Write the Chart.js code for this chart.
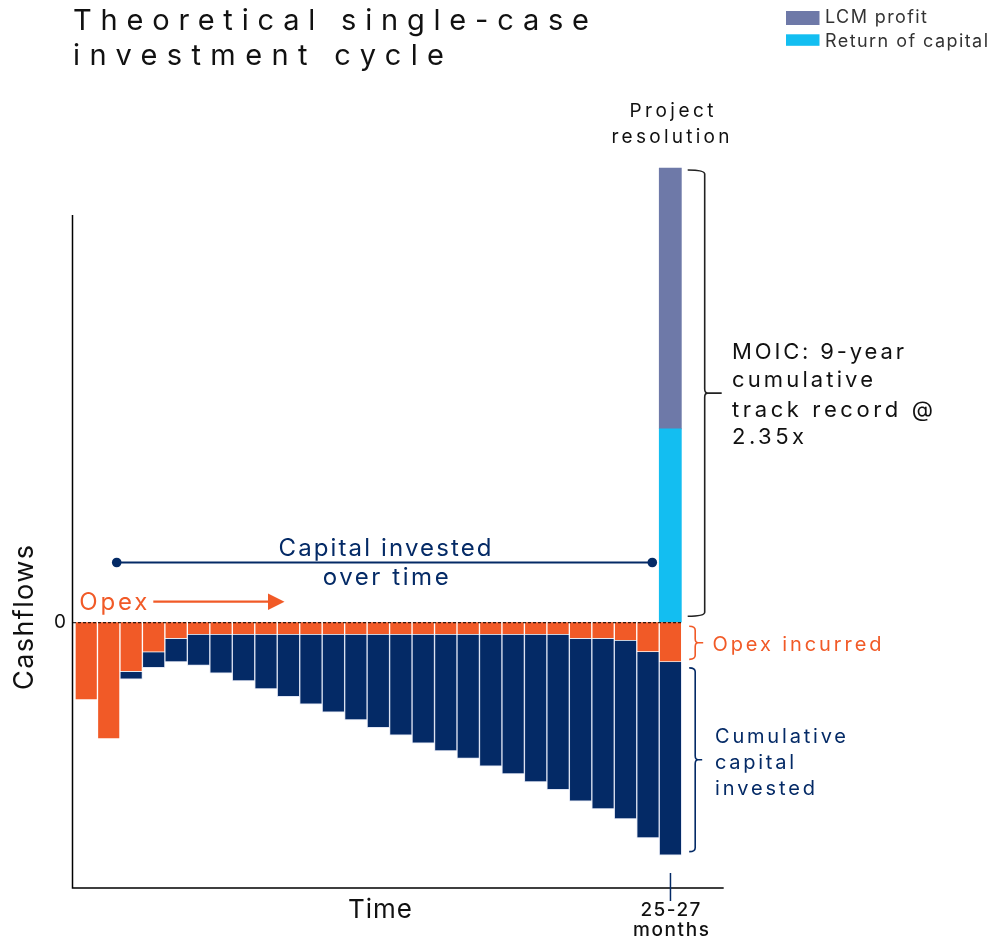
<!DOCTYPE html>
<html>
<head>
<meta charset="utf-8">
<script src="https://cdn.jsdelivr.net/npm/chart.js@4"></script>
<style>
  html, body { margin: 0; padding: 0; background: #fff; }
  #wrap { width: 994px; height: 942px; position: relative; }
</style>
</head>
<body>
<div id="wrap"><canvas id="c" width="994" height="942"></canvas></div>
<script>
// ---- Data (units: cumulative capital invested at resolution = 100) ----
const categories = ['1','2','3','4','5','6','7','8','9','10','11','12','13','14','15','16','17','18','19','20','21','22','23','24','25','26','27'];
const opexIncurred = [-40.2, -60.4, -25.6, -15.5, -8.5, -6.4, -6.4, -6.4, -6.4, -6.4, -6.4, -6.4, -6.4, -6.4, -6.4, -6.4, -6.4, -6.4, -6.4, -6.4, -6.4, -6.4, -8.5, -8.5, -9.5, -15.4, -20.5];
const capitalInvested = [0, 0, -3.9, -8.0, -12.1, -16.0, -20.0, -24.0, -28.1, -32.1, -36.0, -40.1, -44.1, -48.1, -52.0, -56.2, -60.2, -64.1, -68.1, -72.1, -76.2, -80.2, -84.1, -88.1, -92.2, -96.2, -100];
const returnOfCapital = [null, null, null, null, null, null, null, null, null, null, null, null, null, null, null, null, null, null, null, null, null, null, null, null, null, null, 100];
const lcmProfit = [null, null, null, null, null, null, null, null, null, null, null, null, null, null, null, null, null, null, null, null, null, null, null, null, null, null, 135];
const yTickLabels = ['0'];

const C_OPEX = '#F15A27';
const C_CAP = '#042A66';
const C_RET = '#13BEF1';
const C_PROF = '#6E79A8';
const FONT = 'Inter, "Noto Sans", sans-serif';

function brace(ctx, x, yTop, yBot, hook, tip, color, lw) {
  const yMid = (yTop + yBot) / 2;
  const r = 4;
  ctx.save();
  ctx.strokeStyle = color;
  ctx.lineWidth = lw;
  ctx.beginPath();
  ctx.moveTo(x - hook, yTop);
  ctx.quadraticCurveTo(x, yTop, x, yTop + r);
  ctx.lineTo(x, yMid - r);
  ctx.quadraticCurveTo(x, yMid, x + 3, yMid);
  ctx.lineTo(x + tip, yMid);
  ctx.moveTo(x + 3, yMid);
  ctx.quadraticCurveTo(x, yMid, x, yMid + r);
  ctx.lineTo(x, yBot - r);
  ctx.quadraticCurveTo(x, yBot, x - hook, yBot);
  ctx.stroke();
  ctx.restore();
}

// draw text so that it spans targetWidth, starting at x (left edge)
function fit(ctx, text, x, y, targetWidth) {
  ctx.save();
  ctx.textAlign = 'left';
  ctx.letterSpacing = '0px';
  const w = ctx.measureText(text).width;
  const sp = (targetWidth - w) / Math.max(1, text.length - 1);
  ctx.letterSpacing = sp + 'px';
  ctx.fillText(text, x, y);
  ctx.restore();
}

const annotations = {
  id: 'annotations',
  afterDatasetsDraw(chart) {
    const ctx = chart.ctx;
    const ys = chart.scales.y;
    const meta = chart.getDatasetMeta(0);
    const last = meta.data[meta.data.length - 1];
    const barW = last.width;
    const lastRight = last.x + barW / 2;
    const first = meta.data[0];
    const firstLeft = first.x - barW / 2;
    const y0 = ys.getPixelForValue(0);
    const n = categories.length - 1;

    ctx.save();
    ctx.textBaseline = 'alphabetic';
    // zero dashed line
    ctx.strokeStyle = '#000';
    ctx.lineWidth = 1;
    ctx.setLineDash([3, 2]);
    ctx.beginPath();
    ctx.moveTo(firstLeft - 2, y0 + 0.5);
    ctx.lineTo(lastRight, y0 + 0.5);
    ctx.stroke();
    ctx.setLineDash([]);

    // axis lines
    const axTop = ys.getPixelForValue(210.7);
    const axBot = ys.getPixelForValue(-137.5);
    ctx.strokeStyle = '#000';
    ctx.lineWidth = 1.5;
    ctx.beginPath();
    ctx.moveTo(firstLeft - 2.5, axTop);
    ctx.lineTo(firstLeft - 2.5, axBot);
    ctx.lineTo(lastRight + 42, axBot);
    ctx.stroke();

    // tick at resolution
    ctx.strokeStyle = C_CAP;
    ctx.lineWidth = 1.5;
    ctx.beginPath();
    ctx.moveTo(last.x, axBot - 15);
    ctx.lineTo(last.x, axBot + 13);
    ctx.stroke();

    // zero label
    ctx.fillStyle = '#111';
    ctx.font = '19px ' + FONT;
    ctx.textAlign = 'right';
    ctx.textBaseline = 'middle';
    ctx.fillText(yTickLabels[0], firstLeft - 9, y0 + 0.5);
    ctx.textBaseline = 'alphabetic';

    // axis titles
    ctx.font = '26px ' + FONT;
    fit(ctx, 'Time', 348, 918, 64);
    ctx.save();
    ctx.translate(33.3, 617.5);
    ctx.rotate(-Math.PI / 2);
    ctx.font = '27px ' + FONT;
    fit(ctx, 'Cashflows', -72.5, 0, 145);
    ctx.restore();

    ctx.font = '500 19px ' + FONT;
    fit(ctx, '25-27', last.x - 30, 916, 60);
    fit(ctx, 'months', last.x - 37.5, 936, 76);

    // Project resolution
    ctx.font = '19px ' + FONT;
    fit(ctx, 'Project', 629.5, 117.3, 84);
    fit(ctx, 'resolution', 611.5, 143, 118);

    // braces
    const yTopPos = ys.getPixelForValue(returnOfCapital[n] + lcmProfit[n]);
    brace(ctx, lastRight + 23, yTopPos + 2, y0 - 6, 17, 17, '#222', 1.6);
    const yOpex = ys.getPixelForValue(opexIncurred[n]);
    brace(ctx, lastRight + 13.5, y0 + 4, yOpex - 2.5, 6, 8, C_OPEX, 1.6);
    const yCap = ys.getPixelForValue(opexIncurred[n] + capitalInvested[n]);
    brace(ctx, lastRight + 13.5, yOpex + 6, yCap - 3.5, 6, 7, C_CAP, 1.6);

    // brace labels
    ctx.fillStyle = '#111';
    ctx.font = '22px ' + FONT;
    fit(ctx, 'MOIC: 9-year', 732, 359.3, 172);
    fit(ctx, 'cumulative', 732, 387, 141);
    fit(ctx, 'track record @', 732, 416.5, 201);
    fit(ctx, '2.35x', 732, 443.5, 72);

    ctx.fillStyle = C_OPEX;
    ctx.font = '20px ' + FONT;
    fit(ctx, 'Opex incurred', 712.5, 650.5, 169);
    ctx.fillStyle = C_CAP;
    fit(ctx, 'Cumulative', 715, 743.3, 131);
    fit(ctx, 'capital', 715, 769, 79);
    fit(ctx, 'invested', 715, 794.5, 100);

    // Capital invested over time
    const lx1 = meta.data[1].x + 8, lx2 = meta.data[25].x + 4.3;
    const ly = 562.5;
    ctx.strokeStyle = C_CAP;
    ctx.lineWidth = 2.2;
    ctx.beginPath();
    ctx.moveTo(lx1, ly);
    ctx.lineTo(lx2, ly);
    ctx.stroke();
    ctx.fillStyle = C_CAP;
    [lx1, lx2].forEach(px => {
      ctx.beginPath();
      ctx.arc(px, ly, 4.8, 0, Math.PI * 2);
      ctx.fill();
    });
    ctx.font = '24px ' + FONT;
    fit(ctx, 'Capital invested', 278.5, 556, 213);
    fit(ctx, 'over time', 322.7, 585, 126);

    // Opex arrow
    ctx.fillStyle = C_OPEX;
    ctx.font = '24px ' + FONT;
    fit(ctx, 'Opex', 79.3, 610, 68);
    ctx.strokeStyle = C_OPEX;
    ctx.lineWidth = 2.2;
    ctx.beginPath();
    ctx.moveTo(153.3, 601.7);
    ctx.lineTo(270, 601.7);
    ctx.stroke();
    ctx.beginPath();
    ctx.moveTo(284.5, 601.7);
    ctx.lineTo(268, 593.5);
    ctx.lineTo(268, 610);
    ctx.closePath();
    ctx.fill();

    // Title
    ctx.fillStyle = '#111';
    ctx.font = '29px ' + FONT;
    fit(ctx, 'Theoretical single-case', 73, 30, 516);
    fit(ctx, 'investment cycle', 73, 65, 371);

    // Legend
    ctx.fillStyle = C_PROF;
    ctx.fillRect(786, 11, 33.5, 14);
    ctx.fillStyle = C_RET;
    ctx.fillRect(786, 34.3, 33.5, 11.5);
    ctx.fillStyle = '#333';
    ctx.font = '18px ' + FONT;
    fit(ctx, 'LCM profit', 825, 23.3, 102);
    fit(ctx, 'Return of capital', 825, 46.7, 163);
    ctx.restore();
  }
};

new Chart(document.getElementById('c'), {
  type: 'bar',
  data: {
    labels: categories,
    datasets: [
      { label: 'Opex incurred', data: opexIncurred, backgroundColor: C_OPEX, borderColor: 'rgba(255,255,255,0.4)', borderWidth: 1 },
      { label: 'Cumulative capital invested', data: capitalInvested, backgroundColor: C_CAP, borderColor: 'rgba(200,210,235,0.55)', borderWidth: 1 },
      { label: 'Return of capital', data: returnOfCapital, backgroundColor: C_RET, borderWidth: 0 },
      { label: 'LCM profit', data: lcmProfit, backgroundColor: C_PROF, borderWidth: 0 }
    ]
  },
  options: {
    responsive: false,
    animation: false,
    layout: { padding: { left: 75, right: 312.3, top: 158.3, bottom: 54 } },
    plugins: { legend: { display: false }, tooltip: { enabled: false }, title: { display: false } },
    scales: {
      x: { display: false, stacked: true, offset: true, grid: { display: false } },
      y: { display: false, stacked: true, min: -137.5, max: 240, grid: { display: false } }
    },
    datasets: { bar: { barPercentage: 1, categoryPercentage: 1 } }
  },
  plugins: [annotations]
});
</script>
</body>
</html>
